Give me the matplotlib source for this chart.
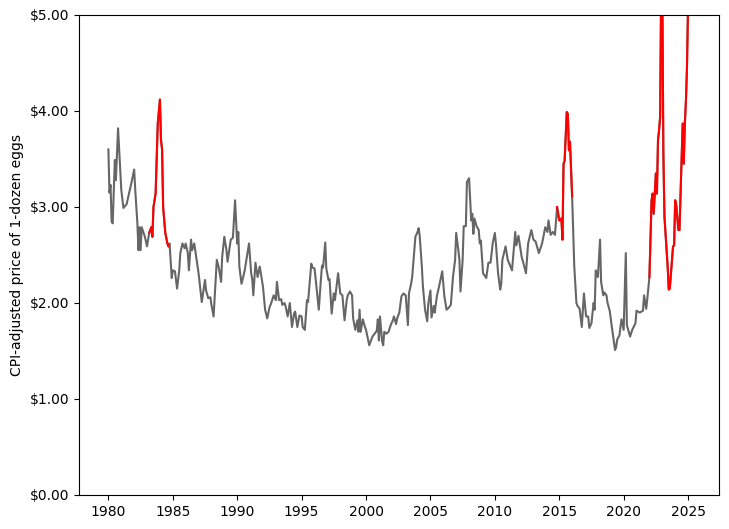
import numpy as np
import matplotlib
matplotlib.use("Agg")
import matplotlib.pyplot as plt
from matplotlib.ticker import StrMethodFormatter

# monthly CPI-adjusted egg prices
months = [
    "1980-01", "1980-02", "1980-03", "1980-04", "1980-05", "1980-07", "1980-08", "1980-10",
    "1981-01", "1981-03", "1981-06", "1981-09", "1981-11",
    "1982-01", "1982-02", "1982-04", "1982-05", "1982-06", "1982-07", "1982-08", "1982-11",
    "1983-01", "1983-03", "1983-05", "1983-06", "1983-07", "1983-09", "1983-11",
    "1984-01", "1984-02", "1984-03", "1984-04", "1984-06", "1984-08", "1984-09", "1984-10", "1984-12",
    "1985-01", "1985-03", "1985-05", "1985-07", "1985-08", "1985-10", "1985-12",
    "1986-01", "1986-03", "1986-04", "1986-06", "1986-07", "1986-09",
    "1987-01", "1987-02", "1987-04", "1987-07", "1987-08", "1987-10", "1987-12",
    "1988-01", "1988-03", "1988-06", "1988-08", "1988-10", "1988-11",
    "1989-01", "1989-03", "1989-04", "1989-07", "1989-09", "1989-11",
    "1990-01", "1990-02", "1990-03", "1990-05", "1990-07", "1990-08", "1990-10", "1990-12",
    "1991-02", "1991-03", "1991-04", "1991-06", "1991-08", "1991-10",
    "1992-01", "1992-03", "1992-05", "1992-07", "1992-09", "1992-11",
    "1993-01", "1993-02", "1993-04", "1993-06", "1993-07", "1993-09", "1993-10", "1993-12",
    "1994-02", "1994-04", "1994-06", "1994-07", "1994-09", "1994-11",
    "1995-01", "1995-02", "1995-04", "1995-06", "1995-07", "1995-10", "1995-11",
    "1996-01", "1996-02", "1996-05", "1996-07", "1996-08", "1996-09", "1996-11", "1996-12",
    "1997-02", "1997-03", "1997-05", "1997-07", "1997-08", "1997-11",
    "1998-01", "1998-03", "1998-05", "1998-07", "1998-08", "1998-10", "1998-12",
    "1999-01", "1999-03", "1999-05", "1999-06", "1999-07", "1999-08", "1999-10", "1999-12",
    "2000-01", "2000-04", "2000-07", "2000-09", "2000-11", "2000-12",
    "2001-01", "2001-02", "2001-04", "2001-05", "2001-06", "2001-08", "2001-10", "2001-12",
    "2002-02", "2002-03", "2002-05", "2002-06", "2002-08", "2002-10", "2002-12",
    "2003-02", "2003-04", "2003-05", "2003-07", "2003-08", "2003-11",
    "2004-01", "2004-02", "2004-03", "2004-05", "2004-06", "2004-08", "2004-10", "2004-11",
    "2005-01", "2005-02", "2005-04", "2005-05", "2005-07", "2005-09", "2005-12",
    "2006-02", "2006-04", "2006-06", "2006-08", "2006-10", "2006-12",
    "2007-01", "2007-03", "2007-04", "2007-05", "2007-07", "2007-08", "2007-10", "2007-11",
    "2008-01", "2008-03", "2008-04", "2008-05", "2008-06", "2008-08", "2008-10", "2008-11", "2008-12",
    "2009-02", "2009-05", "2009-07", "2009-09", "2009-11",
    "2010-01", "2010-02", "2010-04", "2010-06", "2010-07", "2010-08", "2010-11",
    "2011-01", "2011-05", "2011-08", "2011-09", "2011-11",
    "2012-02", "2012-04", "2012-06", "2012-08", "2012-11",
    "2013-01", "2013-03", "2013-06", "2013-09", "2013-12",
    "2014-02", "2014-03", "2014-05", "2014-07", "2014-09", "2014-11",
    "2015-01", "2015-03", "2015-04", "2015-05", "2015-06", "2015-08", "2015-09", "2015-10", "2015-11",
    "2016-01", "2016-02", "2016-03", "2016-05", "2016-06", "2016-08", "2016-10", "2016-12",
    "2017-02", "2017-04", "2017-05", "2017-07", "2017-09", "2017-10", "2017-11",
    "2018-01", "2018-03", "2018-04", "2018-06", "2018-07", "2018-09", "2018-10", "2018-12",
    "2019-02", "2019-05", "2019-06", "2019-07", "2019-09", "2019-11",
    "2020-01", "2020-03", "2020-04", "2020-07", "2020-09", "2020-12",
    "2021-01", "2021-04", "2021-07", "2021-08", "2021-10", "2021-11",
    "2022-01", "2022-03", "2022-04", "2022-05", "2022-07", "2022-08", "2022-09", "2022-10", "2022-11", "2022-12",
    "2023-01", "2023-02", "2023-03", "2023-06", "2023-07", "2023-08", "2023-11", "2023-12",
    "2024-01", "2024-02", "2024-04", "2024-05", "2024-06", "2024-08", "2024-09", "2024-10", "2024-11", "2024-12",
    "2025-01", "2025-02", "2025-03",
]

prices = [
    3.60, 3.15, 3.23, 2.85, 2.83, 3.49, 3.28, 3.82,
    3.18, 2.99, 3.03, 3.18, 3.28,
    3.39, 3.18, 2.83, 2.55, 2.79, 2.55, 2.79, 2.69,
    2.59, 2.73, 2.79, 2.69, 3.00, 3.14, 3.87,
    4.12, 3.70, 3.60, 3.00, 2.73, 2.62, 2.59, 2.62, 2.26,
    2.34, 2.33, 2.15, 2.34, 2.52, 2.62, 2.57,
    2.62, 2.52, 2.34, 2.66, 2.55, 2.62,
    2.31, 2.21, 2.01, 2.24, 2.13, 2.05, 2.06,
    1.98, 1.86, 2.45, 2.36, 2.22, 2.48,
    2.69, 2.55, 2.43, 2.66, 2.68, 3.07,
    2.62, 2.74, 2.38, 2.20, 2.29, 2.34, 2.48, 2.62,
    2.31, 2.25, 2.08, 2.42, 2.27, 2.38,
    2.17, 1.93, 1.84, 1.95, 2.01, 2.08,
    2.03, 2.22, 2.03, 2.04, 1.98, 2.00, 1.97, 1.86,
    2.00, 1.75, 1.89, 1.91, 1.75, 1.87,
    1.86, 1.75, 1.72, 2.03, 2.01, 2.41, 2.37,
    2.36, 2.26, 1.93, 2.25, 2.39, 2.37, 2.63, 2.36,
    2.24, 2.25, 1.89, 2.10, 2.03, 2.31,
    2.10, 2.08, 1.82, 2.03, 2.08, 2.12, 2.08,
    1.84, 1.72, 1.82, 1.70, 1.93, 1.70, 1.83, 1.75,
    1.72, 1.56, 1.65, 1.68, 1.71, 1.83,
    1.61, 1.86, 1.60, 1.56, 1.70, 1.68, 1.70, 1.77,
    1.82, 1.86, 1.78, 1.84, 1.90, 2.07, 2.10,
    2.08, 1.77, 2.10, 2.20, 2.27, 2.69,
    2.74, 2.78, 2.70, 2.38, 2.17, 1.93, 1.81, 1.99,
    2.13, 1.85, 1.97, 1.90, 2.07, 2.17, 2.33,
    2.07, 1.93, 1.95, 1.98, 2.27, 2.45,
    2.73, 2.55, 2.45, 2.12, 2.45, 2.80, 2.80, 3.26,
    3.30, 2.86, 2.93, 2.72, 2.88, 2.80, 2.76, 2.62, 2.65,
    2.31, 2.26, 2.42, 2.42, 2.62,
    2.73, 2.62, 2.31, 2.14, 2.20, 2.45, 2.59,
    2.45, 2.34, 2.74, 2.60, 2.70,
    2.48, 2.40, 2.31, 2.62, 2.76,
    2.66, 2.64, 2.52, 2.62, 2.79,
    2.74, 2.86, 2.71, 2.74, 2.71, 3.00,
    2.86, 2.88, 2.66, 3.45, 3.48, 3.99, 3.97, 3.59, 3.68,
    3.11, 2.73, 2.38, 2.00, 1.97, 1.94, 1.75, 2.10,
    1.86, 1.86, 1.74, 1.79, 2.00, 1.93, 2.34,
    2.27, 2.66, 2.22, 2.08, 2.11, 2.08, 2.00, 1.92,
    1.75, 1.51, 1.54, 1.62, 1.66, 1.83,
    1.72, 2.52, 1.77, 1.65, 1.72, 1.79,
    1.92, 1.90, 1.92, 2.08, 1.94, 2.04,
    2.27, 3.07, 3.14, 2.93, 3.35, 3.14, 3.70, 3.80, 3.94, 5.40,
    5.30, 3.55, 2.90, 2.38, 2.14, 2.15, 2.59, 2.60,
    3.07, 3.02, 2.76, 2.76, 3.14, 3.87, 3.45, 3.87, 4.10, 4.46,
    5.10, 5.90, 6.20,
]

# bird-flu outbreak periods drawn in red
outbreaks = [("1983-03", "1984-09"), ("2014-11", "2016-01"), ("2022-01", "2025-03")]


def to_year(m):
    y, mo = m.split("-")
    return int(y) + (int(mo) - 1) / 12


x = np.array([to_year(m) for m in months])
y = np.array(prices)

fig = plt.figure(figsize=(7.29, 5.29), dpi=100)
ax = fig.add_axes([79.3 / 729, 34 / 529, 640 / 729, 480 / 529])

ax.plot(x, y, color="#666666", linewidth=1.5)
for start, end in outbreaks:
    mask = (x >= to_year(start)) & (x <= to_year(end))
    ax.plot(x[mask], y[mask], color="red", linewidth=1.5)

ax.set_ylim(0, 5)
ax.set_xlim(x[0] - 0.05 * (x[-1] - x[0]), x[-1] + 0.05 * (x[-1] - x[0]))
ax.set_xticks(range(1980, 2026, 5))
ax.yaxis.set_major_formatter(StrMethodFormatter("${x:.2f}"))
ax.set_ylabel("CPI-adjusted price of 1-dozen eggs")

fig.savefig("out.png", dpi=100)
